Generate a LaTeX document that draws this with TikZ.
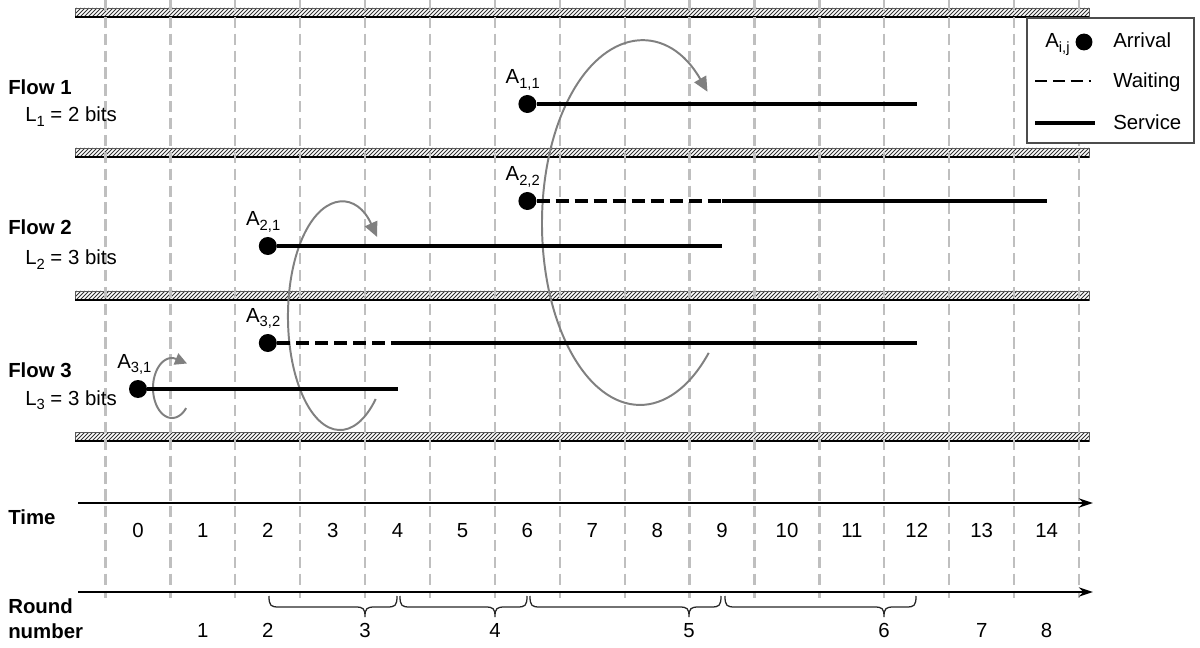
\documentclass[tikz,border=0pt]{standalone}
\usepackage{fontspec}
\setmainfont{Liberation Sans}
\usetikzlibrary{arrows.meta}
\newcommand\mysub[1]{\raisebox{-3.5pt}{\fontsize{10.5}{10.5}\selectfont #1}}
\newcommand\hatchband[1]{%
  \fill[white] (75,#1) rectangle (1089,#1+9);
  \begin{scope}
    \clip (75,#1) rectangle (1089,#1+9);
    \foreach \hx in {60,64,...,1092} \draw[black!80, line width=0.6pt] (\hx,#1+9) -- ++(9,-9);
  \end{scope}
  \draw[black!65, line width=0.6pt] (75,#1) rectangle (1089,#1+9);
  \draw[black, line width=1.3pt] (75,#1+9) -- (1089,#1+9);
}
\newcommand\roundbrace[3]{%
  \draw[bracestyle] (#1,596) .. controls (#1,606) and (#1+2,607) .. (#1+10,607)
    -- (#2-10,607) .. controls (#2-2,607) and (#2,608) .. (#2,617)
    .. controls (#2,608) and (#2+2,607) .. (#2+10,607)
    -- (#3-10,607) .. controls (#3-2,607) and (#3,606) .. (#3,596);
}
\begin{document}
\begin{tikzpicture}[x=0.025cm,y=-0.025cm,
  every node/.style={font=\fontsize{14.5}{17}\selectfont, inner sep=0pt},
  grid/.style={draw=black!25, line width=1.6pt, dash pattern=on 8pt off 4pt},
  dot/.style={circle, fill=black, minimum size=12.8pt, inner sep=0pt},
  service/.style={line width=2.6pt},
  waiting/.style={line width=2.3pt, dash pattern=on 9.5pt off 4pt},
  rotline/.style={draw=black!50, line width=1.4pt},
  rot/.style={rotline, -{Triangle[length=10.5pt,width=9.5pt]}},
  axis/.style={line width=1.6pt, -{Stealth[length=10pt,width=6.5pt]}},
  bracestyle/.style={draw=black!85, line width=0.9pt},
  legendbox/.style={draw=black!70, line width=0.9pt, fill=white},
  lab/.style={anchor=base west},
  flowtitle/.style={anchor=base west, font=\fontsize{14.5}{17}\selectfont\bfseries}]
\useasboundingbox (0,0) rectangle (1200,648);

% hatched bands
\hatchband{8}
\hatchband{148}
\hatchband{291}
\hatchband{432}

% grid
\foreach \k in {0,...,15} \draw[grid] ({105.5+64.9*\k},0) -- ({105.5+64.9*\k},598);

% rotation arrows
\draw[rotline] plot[domain=42:276, samples=60] ({172+19*cos(\x)},{388+30*sin(\x)});
\coordinate (r1b) at ({172+19*cos(276)},{388+30*sin(276)});
\coordinate (r1t) at (187,363.5);
\draw[rotline, -{Triangle[length=8.5pt,width=8.5pt]}] (r1b) -- (r1t);
\coordinate (r2s) at (375.7,399);
\draw[rot] (r2s) arc[start angle=-46.6, end angle=-315.5, x radius=1.3cm, y radius=2.8375cm];
\coordinate (r3s) at (708.7,352.9);
\draw[rot] (r3s) arc[start angle=-45.5, end angle=-313.5, x radius=2.45cm, y radius=4.5375cm];

% flow labels
\node[flowtitle] (f1) at (8,95) {Flow 1};
\node[lab] (l1) at (25,122) {L\mysub{1} = 2 bits};
\node[flowtitle] (f2) at (8,235) {Flow 2};
\node[lab] (l2) at (25,265) {L\mysub{2} = 3 bits};
\node[flowtitle] (f3) at (8,377) {Flow 3};
\node[lab] (l3) at (25,405) {L\mysub{3} = 3 bits};

% flow 1
\node[dot] (A11) at (527.4,104) {};
\node[lab] (A11l) at (505.4,84) {A\mysub{1,1}};
\coordinate (E11) at (916.8,104);
\draw[service] (A11) -- (E11);

% flow 2
\node[dot] (A22) at (527.4,201) {};
\node[lab] (A22l) at (505.4,181) {A\mysub{2,2}};
\coordinate (W22) at (722.1,201);
\coordinate (E22) at (1046.6,201);
\draw[waiting] (A22) -- (W22);
\draw[service] (W22) -- (E22);

\node[dot] (A21) at (267.8,246) {};
\node[lab] (A21l) at (245.8,226) {A\mysub{2,1}};
\coordinate (E21) at (722.1,246);
\draw[service] (A21) -- (E21);

% flow 3
\node[dot] (A32) at (267.8,343) {};
\node[lab] (A32l) at (245.8,322) {A\mysub{3,2}};
\coordinate (W32) at (397.6,343);
\coordinate (E32) at (916.8,343);
\draw[waiting] (A32) -- (W32);
\draw[service] (W32) -- (E32);

\node[dot] (A31) at (138,389) {};
\node[lab] (A31l) at (117,368) {A\mysub{3,1}};
\coordinate (E31) at (397.6,389);
\draw[service] (A31) -- (E31);

% legend
\draw[legendbox] (1027,18) rectangle (1194,143);
\node[lab] (legA) at (1045,48) {A\mysub{i,j}};
\node[dot, minimum size=12pt] (legdot) at (1084,42) {};
\node[lab] (legArr) at (1113,48) {Arrival};
\coordinate (lw1) at (1035,81);
\coordinate (lw2) at (1091,81);
\draw[line width=1.6pt, dash pattern=on 8.5pt off 4.2pt] (lw1) -- (lw2);
\node[lab] (legWait) at (1113,88) {Waiting};
\coordinate (ls1) at (1035,123);
\coordinate (ls2) at (1095,123);
\draw[line width=2.4pt] (ls1) -- (ls2);
\node[lab] (legServ) at (1113,130) {Service};

% time axis
\coordinate (ta) at (78,503);
\coordinate (tb) at (1093,503);
\draw[axis] (ta) -- (tb);
\node[flowtitle] (timel) at (8,524) {Time};
\foreach \t in {0,...,14} \node[anchor=base] (tn\t) at ({138+64.9*\t},537) {\t};

% round axis
\coordinate (ra) at (78,592);
\coordinate (rb) at (1093,592);
\draw[axis] (ra) -- (rb);
\node[flowtitle] (roundl) at (8,613) {Round};
\node[flowtitle] (numberl) at (8,638) {number};
\foreach \r/\xx in {1/202.9,2/267.8,3/365,4/495,5/689,6/884,7/981.7,8/1046.6}
  \node[anchor=base] (rn\r) at (\xx,637) {\r};

\roundbrace{269}{365}{397}
\roundbrace{400}{495}{527}
\roundbrace{530}{689}{721}
\roundbrace{725}{884}{916}
\end{tikzpicture}
\end{document}
